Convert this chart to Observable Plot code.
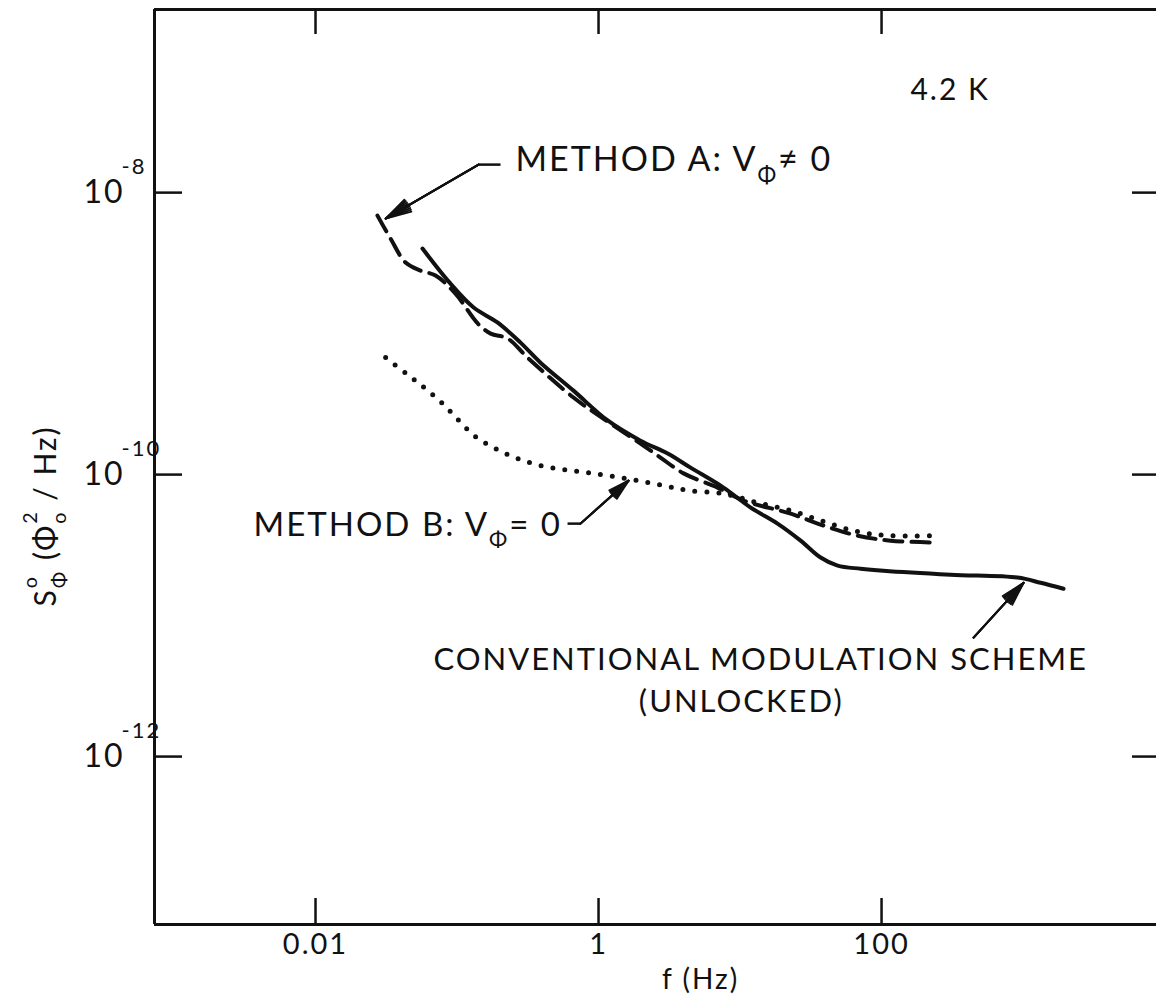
<!DOCTYPE html>
<html>
<head>
<meta charset="utf-8">
<script src="https://cdn.jsdelivr.net/npm/d3@7"></script>
<script src="https://cdn.jsdelivr.net/npm/@observablehq/plot@0.6"></script>
<style>
  html, body { margin: 0; padding: 0; background: #fff; overflow: hidden; }
  svg { display: block; }
  svg text { letter-spacing: 2px; }
</style>
</head>
<body>
<div id="chart"></div>
<script>
// ---------- data ----------
// Conventional modulation scheme (unlocked) — solid line
const convF = [0.0570, 0.0899, 0.131, 0.193, 0.281, 0.389, 0.665, 1.16, 1.98, 3.08, 4.47, 7.64, 11.9, 18.4, 26.8, 37.1, 48.9, 71.1, 103, 308, 914, 1330, 1932];
const convS = [4.01e-9, 2.26e-9, 1.53e-9, 1.20e-9, 8.63e-10, 6.22e-10, 3.94e-10, 2.42e-10, 1.74e-10, 1.41e-10, 1.12e-10, 8.09e-11, 5.83e-11, 4.49e-11, 3.40e-11, 2.58e-11, 2.26e-11, 2.15e-11, 2.08e-11, 1.95e-11, 1.86e-11, 1.71e-11, 1.55e-11];

// Method A: V_Φ ≠ 0 — dashed line
const aF = [0.0274, 0.0339, 0.0433, 0.0552, 0.0705, 0.0975, 0.140, 0.173, 0.228, 0.315, 0.665, 1.22, 1.98, 2.74, 3.99, 6.93, 10.6, 22.8, 38.9, 67.6, 116, 229];
const aS = [6.87e-9, 4.72e-9, 3.19e-9, 2.80e-9, 2.58e-9, 1.92e-9, 1.18e-9, 1.00e-9, 9.23e-10, 6.76e-10, 3.52e-10, 2.30e-10, 1.66e-10, 1.32e-10, 1.02e-10, 8.09e-11, 6.55e-11, 5.28e-11, 4.35e-11, 3.69e-11, 3.40e-11, 3.30e-11];

// Method B: V_Φ = 0 — dotted line
const bF = [0.0313, 0.0447, 0.0598, 0.0791, 0.103, 0.135, 0.187, 0.268, 0.389, 0.585, 0.849, 1.28, 1.92, 2.88, 4.33, 7.64, 13.3, 22.8, 38.9, 67.6, 116, 229];
const bS = [6.76e-10, 5.12e-10, 4.07e-10, 3.19e-10, 2.42e-10, 1.86e-10, 1.53e-10, 1.30e-10, 1.16e-10, 1.08e-10, 1.03e-10, 9.68e-11, 9.06e-11, 8.36e-11, 7.71e-11, 7.33e-11, 6.32e-11, 5.56e-11, 4.65e-11, 3.94e-11, 3.69e-11, 3.69e-11];

// ticks
const xTicks = [0.01, 1, 100];
const xTickLabels = ["0.01", "1", "100"];
const yTicks = [1e-8, 1e-10, 1e-12];
const yTickExp = ["-8", "-10", "-12"];

// axis extents
const xDomain = [7.28e-4, 8770];
const yDomain = [6.44e-14, 1.99e-7];

// annotations (anchor points in data units)
const noteK = {f: 160, s: 5.28e-8, text: "4.2 K"};
const noteA = {f: 0.259, s: 1.69e-8, text: "METHOD A: V_{Φ}≠\u00A00"};
const noteB = {f: 0.00365, s: 4.35e-11, text: "METHOD B: V_{Φ}=\u00A00"};
const noteC1 = {f: 14.0, s: 4.80e-12, text: "CONVENTIONAL MODULATION SCHEME"};
const noteC2 = {f: 10.2, s: 2.45e-12, text: "(UNLOCKED)"};
const noteArrows = [
  {f1: 0.142, s1: 1.58e-8, f2: 0.0313, s2: 6.54e-9},
  {f1: 0.746, s1: 4.49e-11, f2: 1.63, s2: 9.06e-11},
  {f1: 447, s1: 6.98e-12, f2: 1009, s2: 1.71e-11}
];
const noteLeaders = [
  {f1: 0.142, s1: 1.58e-8, f2: 0.203, s2: 1.58e-8},
  {f1: 0.604, s1: 4.49e-11, f2: 0.746, s2: 4.49e-11}
];
const xTitle = {f: 5.26, text: "f (Hz)"};
const yTitle = "S^{o}_{Φ}\u00A0(Φ^{2}_{o}\u00A0/\u00A0Hz)";

// ---------- layout ----------
const W = 1156, H = 1005;
const mL = 154, mT = 9, mR = 0, mB = 81;
const frameW = W - mL - mR, frameH = H - mT - mB;
const ink = "#111";
const FONT = "Lato, 'DejaVu Sans', sans-serif";

const series = (F, S) => F.map((f, i) => ({f, s: S[i]}));
const headAngles = [30, 22, 14, 6];

const chart = Plot.plot({
  width: W, height: H,
  marginLeft: mL, marginTop: mT, marginRight: mR, marginBottom: mB,
  x: {type: "log", domain: xDomain, axis: null},
  y: {type: "log", domain: yDomain, axis: null},
  style: {fontFamily: FONT, background: "#fff", color: ink},
  marks: [
    // frame (left, bottom, top)
    Plot.ruleX([xDomain[0]], {stroke: ink, strokeWidth: 3}),
    Plot.ruleY(yDomain, {stroke: ink, strokeWidth: 3}),
    // inward ticks
    Plot.ruleX(xTicks, {stroke: ink, strokeWidth: 2.5, insetBottom: frameH - 25}),
    Plot.ruleX(xTicks, {stroke: ink, strokeWidth: 2.5, insetTop: frameH - 26}),
    Plot.ruleY(yTicks, {stroke: ink, strokeWidth: 2.5, insetRight: frameW - 28}),
    Plot.ruleY(yTicks, {stroke: ink, strokeWidth: 2.5, insetLeft: frameW - 24}),
    // tick labels
    Plot.text(xTicks, {x: d => d, text: (d, i) => xTickLabels[i], frameAnchor: "bottom", dy: 29, fontSize: 29, fill: ink}),
    Plot.text(yTicks, {y: d => d, text: () => "10", frameAnchor: "left", dx: -30, textAnchor: "end", fontSize: 32, fill: ink}),
    Plot.text(yTicks, {y: d => d, text: (d, i) => yTickExp[i], frameAnchor: "left", dx: -33, dy: -19, textAnchor: "start", lineAnchor: "bottom", fontSize: 22, fill: ink}),
    // axis titles
    Plot.text([xTitle], {x: "f", text: "text", frameAnchor: "bottom", dy: 64, fontSize: 28, fill: ink}),
    Plot.text([yTitle], {text: d => d, frameAnchor: "left", dx: -99, dy: 49, rotate: -90, textAnchor: "middle", lineAnchor: "bottom", fontSize: 30, fill: ink}),
    // curves
    Plot.line(series(aF, aS), {x: "f", y: "s", stroke: ink, strokeWidth: 4, strokeDasharray: "18,9", curve: "catmull-rom"}),
    Plot.line(series(bF, bS), {x: "f", y: "s", stroke: ink, strokeWidth: 5, strokeDasharray: "0,12", strokeLinecap: "round", curve: "catmull-rom"}),
    Plot.line(series(convF, convS), {x: "f", y: "s", stroke: ink, strokeWidth: 4, curve: "catmull-rom"}),
    // annotations
    Plot.text([noteK], {x: "f", y: "s", text: "text", textAnchor: "start", fontSize: 30, fill: ink}),
    Plot.text([noteA], {x: "f", y: "s", text: "text", textAnchor: "start", fontSize: 34, fill: ink}),
    Plot.text([noteB], {x: "f", y: "s", text: "text", textAnchor: "start", fontSize: 33, fill: ink}),
    Plot.text([noteC1], {x: "f", y: "s", text: "text", textAnchor: "middle", fontSize: 31, fill: ink}),
    Plot.text([noteC2], {x: "f", y: "s", text: "text", textAnchor: "middle", fontSize: 31, fill: ink}),
    Plot.link(noteLeaders, {x1: "f1", y1: "s1", x2: "f2", y2: "s2", stroke: ink, strokeWidth: 2.5}),
    ...headAngles.map(a => Plot.arrow(noteArrows, {x1: "f1", y1: "s1", x2: "f2", y2: "s2", stroke: ink, strokeWidth: 2, headLength: 20, headAngle: a}))
  ]
});

document.getElementById("chart").append(chart);

// ---------- super/subscript rendering for labels ----------
const SVGNS = "http://www.w3.org/2000/svg";
function rich(el) {
  const s = el.textContent;
  if (!/[_^]\{/.test(s)) return;
  const fs = parseFloat(getComputedStyle(el).fontSize);
  el.textContent = "";
  const re = /([_^])\{([^}]*)\}|([^_^]+)/g;
  let m, cur = 0, prev = null;
  while ((m = re.exec(s))) {
    const type = m[1] || "";
    const t = m[1] ? m[2] : m[3];
    const ts = document.createElementNS(SVGNS, "tspan");
    ts.textContent = t;
    let target = 0;
    if (type === "^") target = -0.62 * fs;
    else if (type === "_") target = 0.34 * fs;
    if (type) ts.setAttribute("font-size", (0.66 * fs).toFixed(1));
    const d = target - cur;
    if (d) ts.setAttribute("dy", d.toFixed(1));
    cur = target;
    el.appendChild(ts);
    if (type && prev && prev.type && prev.type !== type) {
      ts.setAttribute("dx", (-prev.el.getComputedTextLength()).toFixed(1));
    }
    prev = {type, el: ts};
  }
}
d3.select(chart).selectAll("text").each(function () { rich(this); });
</script>
</body>
</html>
